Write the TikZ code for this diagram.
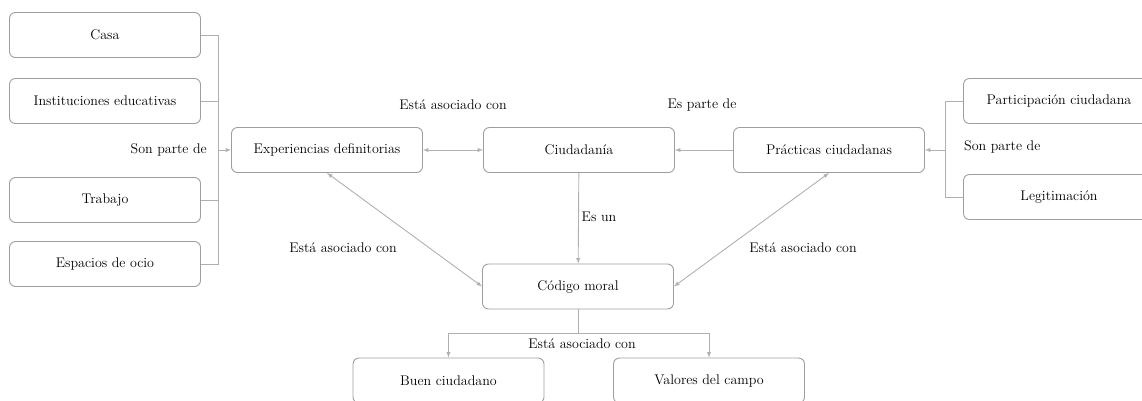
\documentclass[tikz,border=0pt]{standalone}
\usepackage{fontspec}
\setmainfont{Latin Modern Roman}
\usetikzlibrary{arrows}

\definecolor{boxgray}{HTML}{9E9E9E}
\definecolor{linegray}{HTML}{B0B0B0}

\begin{document}
\begin{tikzpicture}[x=1pt,y=-1pt,>=latex,
  every node/.style={font=\rmfamily\fontsize{14}{16}\selectfont},
  box/.style={draw=boxgray,rectangle,rounded corners=6pt,minimum width=191pt,minimum height=45pt,inner sep=0pt,line width=0.9pt},
  lbl/.style={inner sep=1pt},
  link/.style={draw=linegray,line width=0.9pt}]
        \useasboundingbox (0,0) rectangle (1142,400);
        % left group
        \node [box] (casa) at (105,35) {Casa};
        \node [box] (inst) at (105,101) {Instituciones educativas};
        \node [box] (trab) at (105,200) {Trabajo};
        \node [box] (ocio) at (105,264) {Espacios de ocio};
        % main row
        \node [box] (exp) at (327,150) {Experiencias definitorias};
        \node [box] (ciu) at (579,150) {Ciudadanía};
        \node [box] (prac) at (829,150) {Prácticas ciudadanas};
        % right group
        \node [box] (part) at (1059,101) {Participación ciudadana};
        \node [box] (legit) at (1059,197) {Legitimación};
        % bottom
        \node [box] (moral) at (578,286.5) {Código moral};
        \node [box] (buen) at (448.5,380.5) {Buen ciudadano};
        \node [box] (valor) at (709,380.5) {Valores del campo};
        \coordinate (jl) at (218,150);
        \coordinate (jr) at (945,150);
        \coordinate (jb) at (578,333);
        \draw [link] (casa.east) -| (jl);
        \draw [link] (inst.east) -| (jl);
        \draw [link] (trab.east) -| (jl);
        \draw [link] (ocio.east) -| (jl);
        \draw [link,->] (jl) -- (exp);
        \draw [link] (part.west) -| (jr);
        \draw [link] (legit.west) -| (jr);
        \draw [link,->] (jr) -- (prac);
        \draw [link,<->] (exp) -- (ciu);
        \draw [link,->] (prac) -- (ciu);
        \draw [link,->] (ciu) -- (moral);
        \draw [link,<->] (exp.south) -- (moral.west);
        \draw [link,<->] (prac.south) -- (moral.east);
        \draw [link] (moral.south) -- (jb);
        \draw [link,->] (jb) -| (buen.north);
        \draw [link,->] (jb) -| (valor.north);
        % labels
        \node [lbl,anchor=east] (l1) at (208,150) {Son parte de};
        \node [lbl,anchor=west] (l2) at (963,147) {Son parte de};
        \node [lbl] (l3) at (453,105) {Está asociado con};
        \node [lbl] (l4) at (702,105) {Es parte de};
        \node [lbl] (l5) at (599,217) {Es un};
        \node [lbl] (l6) at (343,248) {Está asociado con};
        \node [lbl] (l7) at (803,248) {Está asociado con};
        \node [lbl] (l8) at (582,344) {Está asociado con};
\end{tikzpicture}
\end{document}
